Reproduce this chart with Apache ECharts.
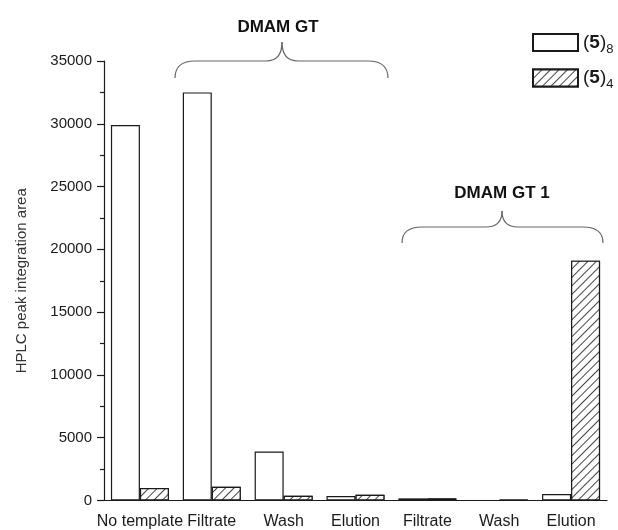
<!DOCTYPE html>
<html>
<head>
<meta charset="utf-8">
<script src="https://cdn.jsdelivr.net/npm/echarts@6/dist/echarts.min.js"></script>
<style>html,body{margin:0;padding:0;background:#fff}#c{width:618px;height:530px}</style>
</head>
<body>
<div id="c"></div>
<script>
const categories = ['No template', 'Filtrate', 'Wash', 'Elution', 'Filtrate', 'Wash', 'Elution'];
const seriesNames = ['(5)8', '(5)4'];
const values8 = [29900, 32500, 3900, 350, 170, 0, 520];
const values4 = [1000, 1100, 380, 460, 170, 60, 19100];
const groupLabels = ['DMAM GT', 'DMAM GT 1'];

const FONT = '"Liberation Sans", Arial, sans-serif';
const INK = '#1a1a1a';
const BRACE_STYLE = {fill: 'none', stroke: '#666', lineWidth: 1.2};

function brace(x0, x1, xm, yb, yh, yt, r, rc) {
  const q = (ax, ay, cx, cy, bx, by) => ({type: 'bezierCurve',
    shape: {x1: ax, y1: ay, cpx1: cx, cpy1: cy, x2: bx, y2: by}, style: BRACE_STYLE});
  const l = (ax, ay, bx, by) => ({type: 'line',
    shape: {x1: ax, y1: ay, x2: bx, y2: by}, style: BRACE_STYLE});
  return {type: 'group', children: [
    q(x0, yb, x0, yh, x0 + r, yh),
    l(x0 + r, yh, xm - rc, yh),
    q(xm - rc, yh, xm, yh, xm, yt),
    q(xm, yt, xm, yh, xm + rc, yh),
    l(xm + rc, yh, x1 - r, yh),
    q(x1 - r, yh, x1, yh, x1, yb)
  ]};
}

const chart = echarts.init(document.getElementById('c'), null, {renderer: 'canvas'});
chart.setOption({
  animation: false,
  backgroundColor: '#fff',
  grid: {left: 104, right: 11, top: 61, bottom: 29.5, containLabel: false},
  legend: {
    orient: 'vertical',
    left: 527, top: 28,
    itemWidth: 45, itemHeight: 17, itemGap: 13,
    icon: 'rect',
    data: seriesNames,
    formatter: n => '({b|5})' + '{s|' + n.slice(3) + '}',
    textStyle: {
      fontFamily: FONT, fontSize: 19, color: INK,
      rich: {
        b: {fontFamily: FONT, fontSize: 19, fontWeight: 'bold', color: INK},
        s: {fontFamily: FONT, fontSize: 13, color: INK, padding: [13, 0, 0, 0]}
      }
    }
  },
  xAxis: {
    type: 'category',
    data: categories,
    boundaryGap: true,
    axisLine: {lineStyle: {color: INK, width: 1.2}},
    axisTick: {alignWithLabel: true, length: 8, lineStyle: {color: INK, width: 1.2}},
    axisLabel: {fontFamily: FONT, fontSize: 16, color: INK, margin: 13, interval: 0},
    splitLine: {show: false}
  },
  yAxis: {
    type: 'value',
    min: 0, max: 35000, interval: 5000,
    name: 'HPLC peak integration area',
    nameLocation: 'middle',
    nameGap: 75,
    nameTextStyle: {fontFamily: FONT, fontSize: 15, color: '#333'},
    axisLine: {show: true, lineStyle: {color: INK, width: 1.2}},
    axisTick: {show: true, length: 7, lineStyle: {color: INK, width: 1.2}},
    minorTick: {show: true, splitNumber: 2, length: 4, lineStyle: {color: INK, width: 1.2}},
    axisLabel: {fontFamily: FONT, fontSize: 15, color: INK, margin: 12,
      formatter: v => String(v)},
    splitLine: {show: false}
  },
  series: [
    {
      name: seriesNames[0], type: 'bar', data: values8,
      barWidth: 29, barGap: '0%',
      itemStyle: {color: '#fff', borderColor: INK, borderWidth: 1.2}
    },
    {
      name: seriesNames[1], type: 'bar', data: values4,
      barWidth: 29, barGap: '0%',
      itemStyle: {
        color: '#fff', borderColor: INK, borderWidth: 1.2,
        decal: {
          symbol: 'rect', symbolSize: 1,
          dashArrayX: [1, 0], dashArrayY: [1, 4.5],
          rotation: -Math.PI / 4,
          color: '#444', backgroundColor: '#fff'
        }
      }
    }
  ],
  graphic: [
    brace(175, 388, 282, 78, 61, 42, 20, 16),
    brace(402, 603, 502, 243, 227, 211, 20, 16),
    {type: 'text', x: 278, y: 27, style: {text: groupLabels[0], font: 'bold 17px ' + FONT,
      fill: '#111', align: 'center', verticalAlign: 'middle'}},
    {type: 'text', x: 502, y: 193, style: {text: groupLabels[1], font: 'bold 17px ' + FONT,
      fill: '#111', align: 'center', verticalAlign: 'middle'}}
  ]
});
</script>
</body>
</html>
